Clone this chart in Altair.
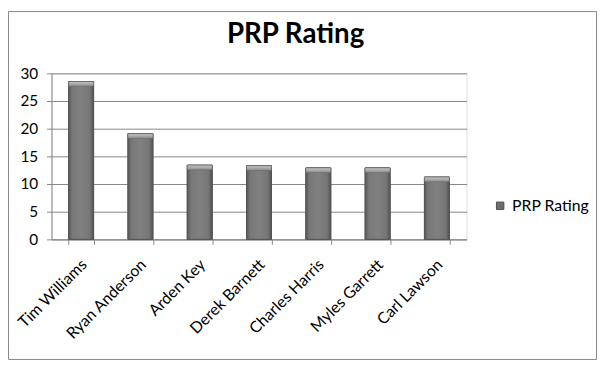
import altair as alt
import pandas as pd

players = ["Tim Williams", "Ryan Anderson", "Arden Key", "Derek Barnett",
           "Charles Harris", "Myles Garrett", "Carl Lawson"]
ratings = [28.5, 19.1, 13.4, 13.3, 12.9, 12.9, 11.25]
series_name = "PRP Rating"
y_ticks = [0, 5, 10, 15, 20, 25, 30]

df = pd.DataFrame({"player": players, "rating": ratings, "series": series_name})

FONT = "Lato"

x_enc = alt.X("player:N", sort=players, title=None,
              scale=alt.Scale(paddingInner=0.58, paddingOuter=0.29),
              axis=alt.Axis(labelAngle=-45, labelFontSize=16, labelFont=FONT,
                            labelColor="#000000", tickBand="extent", tickSize=5,
                            tickColor="#868686", domainColor="#868686",
                            labelPadding=12, labelOffset=-3))
y_enc = alt.Y("rating:Q", title=None,
              scale=alt.Scale(domain=[0, 30], nice=False),
              axis=alt.Axis(values=y_ticks, labelFontSize=15.5, labelFont=FONT,
                            labelColor="#000000", tickSize=5, tickColor="#868686",
                            domainColor="#868686", gridColor="#868686",
                            gridOpacity=1, labelPadding=9))

base = alt.Chart(df)

legend_bars = base.mark_bar(stroke="#4d4d4d", strokeWidth=1).encode(
    x=x_enc, y=y_enc,
    color=alt.Color("series:N", title=None,
                    scale=alt.Scale(range=["#6e6e6e"]),
                    legend=alt.Legend(orient="none", legendX=446, legendY=126,
                                      symbolType="square", symbolSize=56,
                                      symbolStrokeColor="#4d4d4d",
                                      symbolStrokeWidth=1,
                                      labelFont=FONT, labelFontSize=16,
                                      labelColor="#000000")),
)

grad_bars = base.mark_bar(
    stroke="#555555", strokeWidth=1,
    color=alt.Gradient(gradient="linear", x1=0, x2=1, y1=0, y2=0, stops=[
        alt.GradientStop(offset=0, color="#5a5a5a"),
        alt.GradientStop(offset=0.15, color="#787878"),
        alt.GradientStop(offset=0.5, color="#808080"),
        alt.GradientStop(offset=0.85, color="#767676"),
        alt.GradientStop(offset=1, color="#535353"),
    ])
).encode(x=x_enc, y=y_enc)

bevel = base.transform_calculate(top2="datum.rating - 0.85").mark_bar(
    color=alt.Gradient(gradient="linear", x1=0, x2=0, y1=0, y2=1, stops=[
        alt.GradientStop(offset=0, color="#c8c8c8"),
        alt.GradientStop(offset=1, color="#8a8a8a"),
    ]), stroke="#666666", strokeWidth=0.5
).encode(x=x_enc, y=y_enc, y2="top2:Q")

frame = alt.Chart(pd.DataFrame({"f": [0]})).mark_rect(
    fill="transparent", stroke="#868686", strokeWidth=1
).encode(x=alt.value(-43.5), x2=alt.value(551.5), y=alt.value(-62.5), y2=alt.value(289.5))

chart = alt.layer(frame, legend_bars, grad_bars, bevel).properties(
    width=420, height=168,
    title=alt.Title(series_name, font=FONT, fontSize=28, fontWeight="bold",
                    color="#000000", anchor="middle", dx=37, offset=-38),
    padding={"left": 44, "top": 64, "right": 132, "bottom": 124},
    autosize=alt.AutoSizeParams(type="none"),
).configure_view(stroke=None).configure(background="white")

chart.save("out.html", embed_options={"renderer": "svg", "actions": False})
